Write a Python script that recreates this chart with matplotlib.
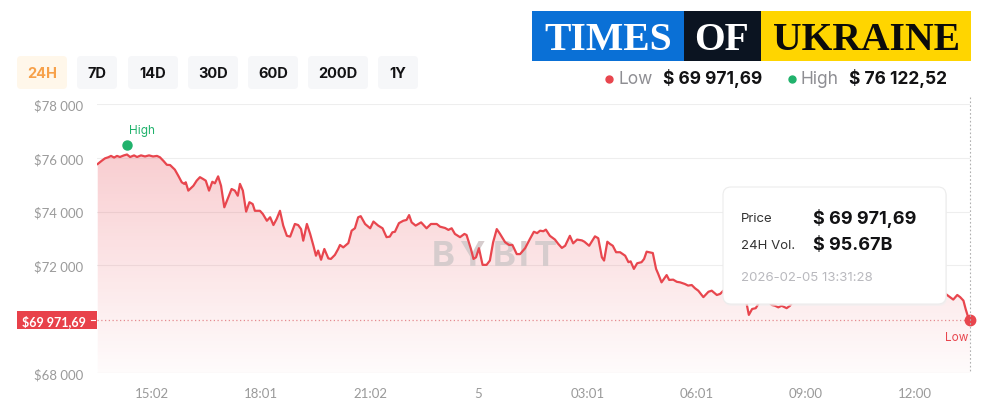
import numpy as np
import matplotlib
matplotlib.use("Agg")
import matplotlib.pyplot as plt
from matplotlib.patches import FancyBboxPatch, Rectangle

# ---- data (hours since 2026-02-04 13:31, BTC price in $) ----
hours = [0.02, 0.13, 0.22, 0.31, 0.385, 0.47, 0.55, 0.63, 0.74, 0.825,
         0.91, 1.02, 1.10, 1.21, 1.32, 1.43, 1.54, 1.65, 1.73, 1.83,
         1.92, 2.01, 2.14, 2.24, 2.33, 2.40, 2.44, 2.51, 2.65, 2.74,
         2.83, 2.92, 2.99, 3.08, 3.17, 3.24, 3.33, 3.41, 3.50, 3.61,
         3.70, 3.79, 3.87, 3.93, 4.01, 4.10, 4.19, 4.28, 4.34, 4.48,
         4.56, 4.67, 4.76, 4.85, 4.94, 5.03, 5.12, 5.22, 5.31, 5.44,
         5.53, 5.61, 5.67, 5.77, 5.86, 5.95, 6.02, 6.08, 6.16, 6.25,
         6.36, 6.43, 6.54, 6.63, 6.68, 6.77, 6.91, 7.00, 7.09, 7.18,
         7.25, 7.37, 7.51, 7.60, 7.73, 7.85, 7.96, 8.05, 8.12, 8.19,
         8.30, 8.42, 8.51, 8.58, 8.65, 8.76, 8.91, 9.06, 9.18, 9.34,
         9.43, 9.57, 9.66, 9.75, 9.84, 9.98, 10.10, 10.16, 10.28, 10.35,
         10.42, 10.50, 10.60, 10.71, 10.80, 10.89, 10.99, 11.08, 11.22, 11.33,
         11.42, 11.54, 11.63, 11.77, 11.90, 12.01, 12.10, 12.18, 12.27, 12.34,
         12.45, 12.59, 12.68, 12.78, 12.87, 13.00, 13.09, 13.20, 13.33, 13.40,
         13.53, 13.69, 13.78, 13.88, 13.94, 14.03, 14.10, 14.18, 14.27, 14.38,
         14.52, 14.61, 14.67, 14.76, 14.85, 14.97, 15.04, 15.11, 15.18, 15.28,
         15.37, 15.43, 15.52, 15.66, 15.73, 15.84, 15.94, 16.03, 16.16, 16.25,
         16.35, 16.44, 16.53, 16.67, 16.81, 16.90, 17.04, 17.13, 17.22, 17.40,
         17.60, 17.76, 17.86, 17.92, 18.01, 18.11, 18.23, 18.39, 18.55, 18.64,
         18.73, 18.82, 18.96, 19.05, 19.19, 19.46, 19.74, 20.01, 20.29, 20.56,
         20.84, 21.11, 21.39, 21.66, 21.94, 22.21, 22.49, 22.76, 23.04, 23.26,
         23.40, 23.54, 23.65, 23.73, 23.82, 23.88, 23.95, 24.0]
prices = [75770, 75890, 75980, 76020, 76070, 76010, 76070, 76030, 76090, 76122.52,
          76030, 76090, 76030, 76090, 76050, 76090, 76050, 76070, 76020, 75880,
          75740, 75730, 75560, 75320, 75090, 75030, 75090, 74780, 74960, 75150,
          75280, 75210, 75150, 74780, 75110, 75050, 75310, 74960, 74160, 74530,
          74840, 74780, 74590, 75030, 74780, 74000, 74350, 74280, 74030, 74030,
          73910, 73660, 73790, 73500, 73730, 74030, 73480, 73100, 73070, 73540,
          73500, 73350, 72920, 73540, 73170, 72730, 72360, 72550, 72210, 72610,
          72260, 72240, 72390, 72610, 72760, 72670, 72830, 73290, 73380, 73790,
          73830, 73540, 73380, 73630, 73480, 73380, 73050, 73070, 73230, 73250,
          73570, 73660, 73690, 73870, 73600, 73480, 73600, 73380, 73540, 73540,
          73440, 73390, 73320, 73380, 73170, 73050, 73170, 73130, 72610, 72240,
          72300, 72640, 72020, 72020, 72180, 72860, 73350, 73170, 72860, 72760,
          72760, 72420, 72420, 72640, 72980, 73250, 73200, 73290, 73270, 73330,
          73100, 72960, 72800, 72650, 72730, 73100, 72820, 72960, 72930, 72880,
          72730, 73080, 73010, 72300, 72180, 72880, 72800, 72730, 72490, 72490,
          72360, 72120, 72150, 71870, 72080, 72120, 72240, 72510, 72490, 72460,
          71870, 71680, 71370, 71640, 71460, 71470, 71390, 71370, 71310, 71250,
          71270, 71150, 71060, 70820, 71020, 71060, 70900, 70940, 71060, 71010,
          70900, 70750, 70570, 70160, 70380, 70410, 70680, 70750, 70530, 70500,
          70440, 70500, 70410, 70500, 70750, 70900, 70830, 71050, 70940, 71120,
          71010, 71200, 71050, 71160, 71010, 71120, 70970, 71090, 70940, 71010,
          70870, 70730, 70900, 70820, 70690, 70380, 70070, 69971.69]

tick_hours = [1.52, 4.5, 7.52, 10.48, 13.5, 16.5, 19.48, 22.48]
tick_labels = ["15:02", "18:01", "21:02", "5", "03:01", "06:01", "09:00", "12:00"]
y_ticks = [68000, 72000, 74000, 76000, 78000]
y_labels = ["$68 000", "$72 000", "$74 000", "$76 000", "$78 000"]
ranges = ["24H", "7D", "14D", "30D", "60D", "200D", "1Y"]

low_price = 69971.69
high_price = 76122.52

W, H = 995, 414
RED = "#e8464e"
GREEN = "#20b26c"
GRAY = "#9a9a9a"
UI = ["Inter", "DejaVu Sans"]

fig = plt.figure(figsize=(W / 100, H / 100), dpi=100)
fig.patch.set_facecolor("white")

# main price axes
ax = fig.add_axes([97 / W, (H - 374) / H, 873 / W, 269 / H], zorder=1)
for s in ax.spines.values():
    s.set_visible(False)
ax.set_facecolor("none")

for yv in y_ticks:
    ax.axhline(yv, color="#eeeeee" if yv != 68000 else "#e4e4e4", lw=0.8, zorder=0)

# gradient fill under the line
poly = ax.fill_between(hours, prices, 68000, color="none", lw=0)
grad = np.zeros((256, 1, 4))
grad[:, 0, 0] = 0.91
grad[:, 0, 1] = 0.27
grad[:, 0, 2] = 0.31
grad[:, 0, 3] = np.linspace(0.02, 0.27, 256)
im = ax.imshow(grad, extent=[0, 24, 68000, 76300], origin="lower",
               aspect="auto", zorder=1)
im.set_clip_path(poly.get_paths()[0], transform=ax.transData)
ax.set_xlim(0, 24)
ax.set_ylim(68000, 78000)

# watermark letters (between fill and line)
for ch, px in zip("BYBIT", [443, 472, 504, 524, 545]):
    ax.text(px / W, 1 - 257 / H, ch, transform=fig.transFigure, fontsize=25,
            fontweight="bold", color="#d6cccd",
            ha="center", va="center", family=UI, zorder=2)

ax.plot(hours, prices, color=RED, lw=1.6, zorder=3, solid_joinstyle="round")
ax.axhline(low_price, color="#e48a90", lw=0.9, ls=(0, (1, 2)), zorder=2)

# high / low markers
ax.plot([hours[9]], [high_price], "o", color=GREEN, ms=6.5, zorder=4,
        transform=ax.transData + matplotlib.transforms.ScaledTranslation(0, 10 / 100, fig.dpi_scale_trans))
ax.annotate("High", (hours[9], high_price), xytext=(15, 25), textcoords="offset pixels",
            color=GREEN, fontsize=8.5, ha="center", va="center", family=UI)
ax.plot([hours[-1]], [low_price], "o", color=RED, ms=7.5, zorder=5, clip_on=False)
ax.annotate("Low", (hours[-1], low_price), xytext=(-2, -17), textcoords="offset pixels",
            color=RED, fontsize=8.5, ha="right", va="center", family=UI)

ax.set_xticks(tick_hours)
ax.set_xticklabels(tick_labels, family=["Lato", "DejaVu Sans"], fontsize=9.5, color=GRAY)
ax.set_yticks(y_ticks)
ax.set_yticklabels(y_labels, family=["Lato", "DejaVu Sans"], fontsize=9.5, color=GRAY)
ax.tick_params(length=0, axis="x", pad=10)
ax.tick_params(length=0, axis="y", pad=10)

# overlay for UI chrome (pixel coordinates)
ov = fig.add_axes([0, 0, 1, 1], zorder=5)
ov.set_xlim(0, W)
ov.set_ylim(H, 0)
ov.axis("off")
ov.patch.set_alpha(0)

# crosshair
ov.plot([970, 970], [98, 374], color="#b0b0b0", lw=0.8, ls=(0, (1.5, 2)))

# range buttons
btn_x = [17, 77, 128, 188, 248, 308, 378]
btn_w = [50, 40, 50, 50, 50, 60, 40]
for i, (lab, bx, bw) in enumerate(zip(ranges, btn_x, btn_w)):
    active = i == 0
    ov.add_patch(FancyBboxPatch((bx, 57), bw, 33, boxstyle="round,pad=0,rounding_size=4",
                                fc="#fff7ea" if active else "#f6f7f9", ec="none"))
    ov.text(bx + bw / 2, 74, lab, ha="center", va="center", fontsize=10.5,
            fontweight="bold", color="#f7a14a" if active else "#121214", family=UI)

# logo
ov.add_patch(Rectangle((532, 12), 152, 50, fc="#0a70d6", ec="none"))
ov.add_patch(Rectangle((684, 12), 77, 50, fc="#0b1421", ec="none"))
ov.add_patch(Rectangle((761, 12), 210, 50, fc="#ffd500", ec="none"))
serif = ["Liberation Serif", "DejaVu Serif"]
ov.text(608, 50, "TIMES", ha="center", va="baseline", fontsize=28.5,
        fontweight="bold", color="white", family=serif)
ov.text(722, 50, "OF", ha="center", va="baseline", fontsize=28.5,
        fontweight="bold", color="white", family=serif)
ov.text(866, 50, "UKRAINE", ha="center", va="baseline", fontsize=28.5,
        fontweight="bold", color="#0b0b0b", family=serif)

# low/high summary
ov.plot([609], [80], "o", color=RED, ms=5)
ov.text(618, 79, "Low", va="center", fontsize=12.5, color="#8e8e93", family=UI)
ov.text(663, 79, "$ 69 971,69", va="center", fontsize=12.5, fontweight="bold",
        color="#121214", family=UI)
ov.plot([792], [80], "o", color=GREEN, ms=5)
ov.text(801, 79, "High", va="center", fontsize=12.5, color="#8e8e93", family=UI)
ov.text(849, 79, "$ 76 122,52", va="center", fontsize=12.5, fontweight="bold",
        color="#121214", family=UI)

# current price badge
ov.add_patch(Rectangle((17, 312), 80, 18, fc="#e8414a", ec="none"))
ov.text(54, 321.5, "$69 971,69", ha="center", va="center", fontsize=9,
        fontweight="bold", color="white", family=["Lato", "DejaVu Sans"])
ov.plot([91, 95], [321, 321], color="white", lw=0.8)

# tooltip
ov.add_patch(FancyBboxPatch((724, 190), 223, 117, boxstyle="round,pad=0,rounding_size=8",
                            fc="#f0f0f0", ec="none", alpha=0.6))
ov.add_patch(FancyBboxPatch((723, 188), 223, 117, boxstyle="round,pad=0,rounding_size=8",
                            fc="white", ec="#ececec", lw=0.8))
ov.text(741, 219, "Price", va="center", fontsize=9.5, color="#333333", family=UI)
ov.text(813, 219, "$ 69 971,69", va="center", fontsize=13, fontweight="bold",
        color="#121214", family=UI)
ov.text(741, 246, "24H Vol.", va="center", fontsize=9.5, color="#333333", family=UI)
ov.text(813, 246, "$ 95.67B", va="center", fontsize=13, fontweight="bold",
        color="#121214", family=UI)
ov.text(741, 278, "2026-02-05 13:31:28", va="center", fontsize=9.5,
        color="#b9b9be", family=UI)

fig.savefig("out.png", dpi=100)
